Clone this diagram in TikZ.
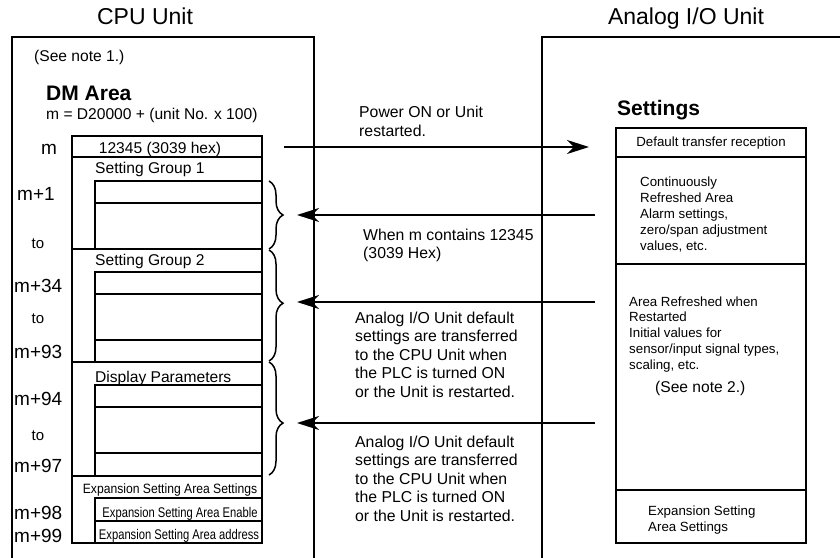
\documentclass[tikz,border=0pt]{standalone}
\usepackage{fontspec}
\setmainfont{Liberation Sans}
\newfontfamily\narrowA[FakeStretch=0.8]{Liberation Sans}
\newfontfamily\narrowB[FakeStretch=0.9]{Liberation Sans}
\usetikzlibrary{arrows.meta,decorations.pathreplacing}
\newcommand{\mlines}[1]{\begin{tabular}[t]{@{}l@{}}#1\end{tabular}}
\begin{document}
\begin{tikzpicture}[x=1pt,y=-1pt,
  ln/.style={line width=1.9pt},
  arr/.style={line width=1.9pt,-{Stealth[length=22pt,width=14pt,inset=7pt]}},
  brc/.style={line width=1.5pt,decorate,decoration={brace,amplitude=14pt,#1}},
  brc/.default={aspect=0.5},
  base/.style={inner sep=0pt,anchor=base west},
  basec/.style={inner sep=0pt,anchor=base},
  ttl/.style={basec,font=\fontsize{23}{27}\selectfont},
  hd/.style={base,font=\fontsize{21}{25}\selectfont\bfseries},
  tx/.style={base,font=\fontsize{15.6}{19}\selectfont},
  txc/.style={basec,font=\fontsize{15.6}{19}\selectfont},
  lbl/.style={base,font=\fontsize{19}{22}\selectfont},
  lblc/.style={basec,font=\fontsize{19}{22}\selectfont},
  tol/.style={basec,font=\fontsize{15}{18}\selectfont},
  sm/.style={base,font=\fontsize{13.3}{16}\selectfont},
  smc/.style={basec,font=\fontsize{13.3}{16}\selectfont},
  mid/.style={base,font=\fontsize{15.8}{18.5}\selectfont}
]
\useasboundingbox (0,0) rectangle (840,557);

% unit frames
\draw[ln] (12,562) -- (12,37) -- (314,37) -- (314,562);
\draw[ln] (542,562) -- (542,37) -- (845,37);

\node[ttl] (cpu) at (145,24) {CPU Unit};
\node[ttl] (aio) at (686,24) {Analog I/O Unit};

% CPU side texts
\node[tx] (note1) at (34,61) {(See note 1.)};
\node[hd] (dm) at (46,100) {DM Area};
\node[tx] (mdef) at (46,119) {m = D20000 + (unit No. x 100)};

% memory column
\draw[ln] (72,136) rectangle (262,543);
\draw[ln] (72,157) -- (262,157);
\draw[ln] (95,181) rectangle (262,249);
\draw[ln] (95,203) -- (262,203);
\draw[ln] (72,249) -- (262,249);
\draw[ln] (95,272) rectangle (262,362);
\draw[ln] (95,294) -- (262,294);
\draw[ln] (95,340) -- (262,340);
\draw[ln] (72,362) -- (262,362);
\draw[ln] (95,385) rectangle (262,476);
\draw[ln] (95,407) -- (262,407);
\draw[ln] (95,453) -- (262,453);
\draw[ln] (72,476) -- (262,476);
\draw[ln] (95,498) rectangle (262,543);
\draw[ln] (95,521) -- (262,521);

\node[txc] (val) at (160,153) {12345 (3039 hex)};
\node[tx] (sg1) at (95,173) {Setting Group 1};
\node[tx] (sg2) at (95,265) {Setting Group 2};
\node[tx] (dp) at (95,382) {Display Parameters};
\node[basec,font=\fontsize{13.5}{16}\selectfont\narrowB] (ess) at (170,493) {Expansion Setting Area Settings};
\node[basec,font=\fontsize{14}{16}\selectfont\narrowA] (ese) at (180,517) {Expansion Setting Area Enable};
\node[basec,font=\fontsize{14}{16}\selectfont\narrowA] (esa) at (179,539) {Expansion Setting Area address};

% address labels
\node[lblc] (lm) at (49,154) {m};
\node[lbl] (lm1) at (17,200) {m+1};
\node[tol] (lto1) at (38,248) {to};
\node[lbl] (lm34) at (14,292) {m+34};
\node[tol] (lto2) at (38,323) {to};
\node[lbl] (lm93) at (14,358) {m+93};
\node[lbl] (lm94) at (14,405) {m+94};
\node[tol] (lto3) at (38,440) {to};
\node[lbl] (lm97) at (14,472) {m+97};
\node[lbl] (lm98) at (14,519) {m+98};
\node[lbl] (lm99) at (14,542) {m+99};

% braces
\coordinate (b1t) at (269,181); \coordinate (b1b) at (269,249);
\coordinate (b2t) at (269,250); \coordinate (b2b) at (269,361);
\coordinate (b3t) at (269,362); \coordinate (b3b) at (269,475);
\draw[brc] (b1t) -- (b1b);
\draw[brc={aspect=0.48}] (b2t) -- (b2b);
\draw[brc={aspect=0.54}] (b3t) -- (b3b);

% Settings box
\node[hd] (set) at (617,115) {Settings};
\draw[ln] (616,128) rectangle (806,543);
\draw[ln] (616,157) -- (806,157);
\draw[ln] (616,264) -- (806,264);
\draw[ln] (616,490) -- (806,490);
\node[smc] (dtr) at (711,146) {Default transfer reception};
\node[sm] (cra) at (640,186) {\mlines{Continuously\\Refreshed Area\\Alarm settings,\\zero/span adjustment\\values, etc.}};
\node[base,font=\fontsize{13.3}{15.75}\selectfont] (arr2) at (629,306) {\mlines{Area Refreshed when\\Restarted\\Initial values for\\sensor/input signal types,\\scaling, etc.}};
\node[tx] (note2) at (655,392) {(See note 2.)};
\node[sm] (exs) at (648,515) {\mlines{Expansion Setting\\Area Settings}};

% arrows
\coordinate (a1s) at (284,147); \coordinate (a1e) at (589,147);
\coordinate (a2s) at (595,215); \coordinate (a2e) at (297,215);
\coordinate (a3s) at (595,302); \coordinate (a3e) at (297,302);
\coordinate (a4s) at (595,423); \coordinate (a4e) at (297,423);
\draw[arr] (a1s) -- (a1e);
\draw[arr] (a2s) -- (a2e);
\draw[arr] (a3s) -- (a3e);
\draw[arr] (a4s) -- (a4e);

% middle texts
\node[base,font=\fontsize{15.8}{19.5}\selectfont] (pwr) at (359,117) {\mlines{Power ON or Unit\\restarted.}};
\node[mid] (when) at (363,240) {\mlines{When m contains 12345\\(3039 Hex)}};
\node[mid] (dflt1) at (355,323) {\mlines{Analog I/O Unit default\\settings are transferred\\to the CPU Unit when\\the PLC is turned ON\\or the Unit is restarted.}};
\node[mid] (dflt2) at (355,447) {\mlines{Analog I/O Unit default\\settings are transferred\\to the CPU Unit when\\the PLC is turned ON\\or the Unit is restarted.}};
\end{tikzpicture}
\end{document}
